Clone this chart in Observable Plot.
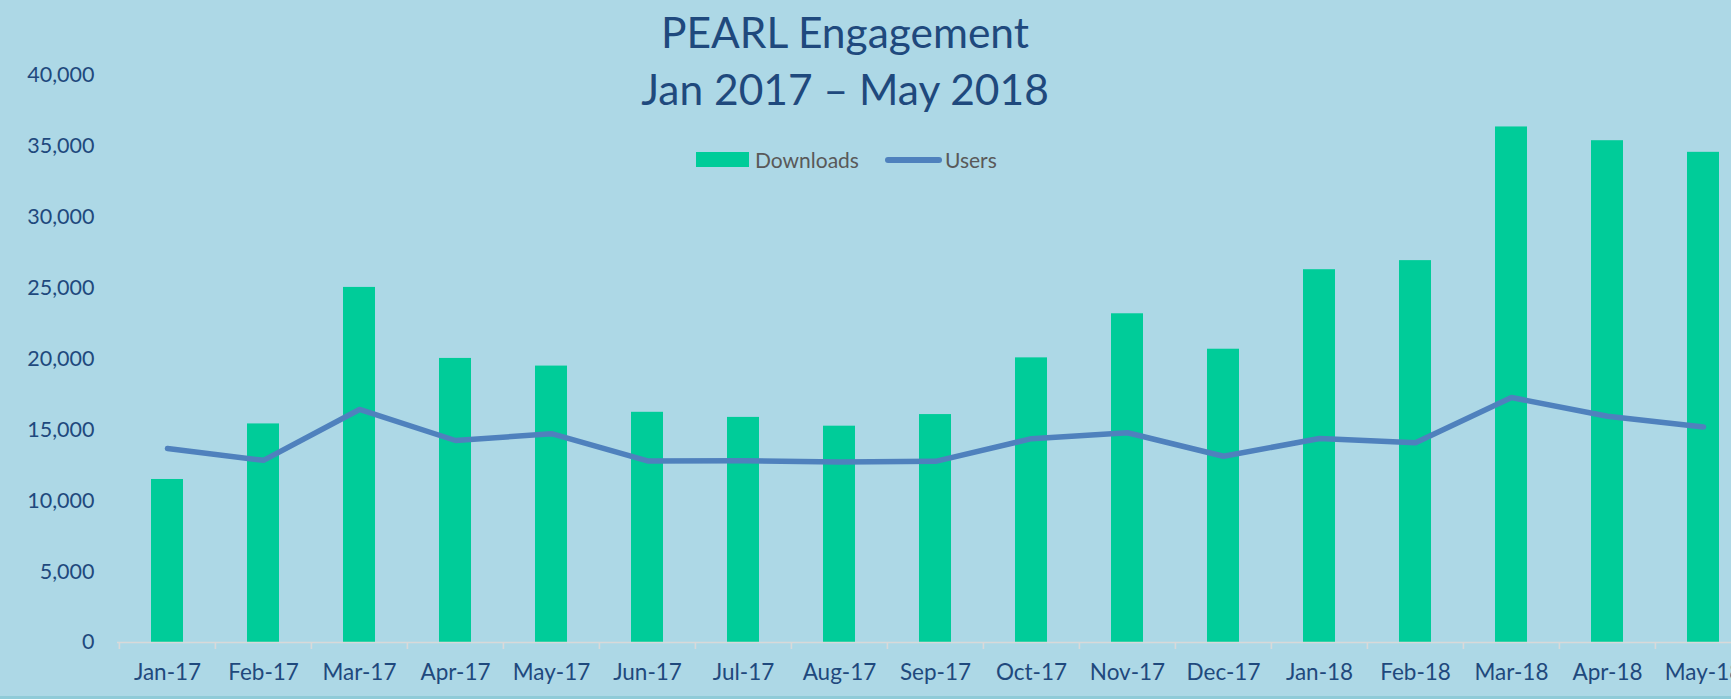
<!DOCTYPE html>
<html>
<head>
<meta charset="utf-8">
<script src="https://cdn.jsdelivr.net/npm/d3@7"></script>
<script src="https://cdn.jsdelivr.net/npm/@observablehq/plot@0.6"></script>
<style>
  html, body { margin: 0; padding: 0; background: #add8e6; overflow: hidden; }
  #wrap { position: relative; width: 1731px; height: 699px; background: #add8e6; }
  #title { position: absolute; left: 845px; top: 3px; transform: translateX(-50%);
    font-family: Lato, sans-serif; font-size: 42.5px; line-height: 57px; color: #1f497d;
    text-align: center; white-space: nowrap; }
  #legend { position: absolute; top: 147px; left: 696px; font-family: Lato, sans-serif;
    font-size: 21px; color: #595959; display: flex; align-items: center; white-space: nowrap; }
  .sw-bar { display: inline-block; width: 53px; height: 15px; background: #00cc99; margin-right: 6px; }
  .sw-line { display: inline-block; width: 57px; height: 6px; border-radius: 3px; background: #4f81bd; margin-left: 26px; margin-right: 3px; }
  #bottom { position: absolute; left: 0; bottom: 0; width: 1731px; height: 3px; background: #8fcbd8; }
</style>
</head>
<body>
<div id="wrap">
  <div id="chart"></div>
  <div id="title">PEARL Engagement<br>Jan 2017 – May 2018</div>
  <div id="legend"><span class="sw-bar"></span><span>Downloads</span><span class="sw-line"></span><span>Users</span></div>
  <div id="bottom"></div>
</div>
<script>
const months = ["Jan-17","Feb-17","Mar-17","Apr-17","May-17","Jun-17","Jul-17","Aug-17","Sep-17","Oct-17","Nov-17","Dec-17","Jan-18","Feb-18","Mar-18","Apr-18","May-18"];
const downloads = [11500, 15420, 25050, 20040, 19500, 16240, 15880, 15260, 16080, 20080, 23190, 20690, 26300, 26940, 36370, 35400, 34580];
const users = [13680, 12850, 16440, 14250, 14730, 12810, 12820, 12740, 12780, 14380, 14800, 13140, 14390, 14090, 17280, 15960, 15200];
const yTicks = [0, 5000, 10000, 15000, 20000, 25000, 30000, 35000, 40000];

const data = months.map((m, i) => ({month: m, downloads: downloads[i], users: users[i]}));

const xStart = 116.7, xStep = 96.2;

const chart = Plot.plot({
  width: 1731,
  height: 699,
  marginTop: 75,
  marginBottom: 57,
  marginLeft: 117,
  marginRight: 0,
  style: {background: "#add8e6", fontFamily: "Lato, sans-serif", fontSize: "21px", color: "#1f497d"},
  x: {type: "band", domain: months, range: [xStart, xStart + xStep * months.length], paddingInner: 0.67, paddingOuter: 0.335, align: 0.5, label: null},
  y: {domain: [0, 40000], label: null},
  marks: [
    Plot.barY(data, {x: "month", y: "downloads", fill: "#00cc99"}),
    Plot.ruleY([0], {stroke: "#d9d9d9", strokeWidth: 1.6}),
    Plot.axisX({tickSize: 7, text: null, dx: -xStep / 2, stroke: "#d9d9d9", strokeWidth: 1.6, strokeOpacity: 1}),
    Plot.axisX({tickSize: 0, tickPadding: 22, fill: "#1f497d", fontSize: 22.5}),
    Plot.axisY({ticks: yTicks, tickSize: 0, tickPadding: 23, tickFormat: d3.format(","), fill: "#1f497d", fontSize: 21.5}),
    Plot.line(data, {x: "month", y: "users", stroke: "#4f81bd", strokeWidth: 5.5, strokeLinejoin: "round", strokeLinecap: "round"})
  ]
});
document.getElementById("chart").appendChild(chart);
</script>
</body>
</html>
